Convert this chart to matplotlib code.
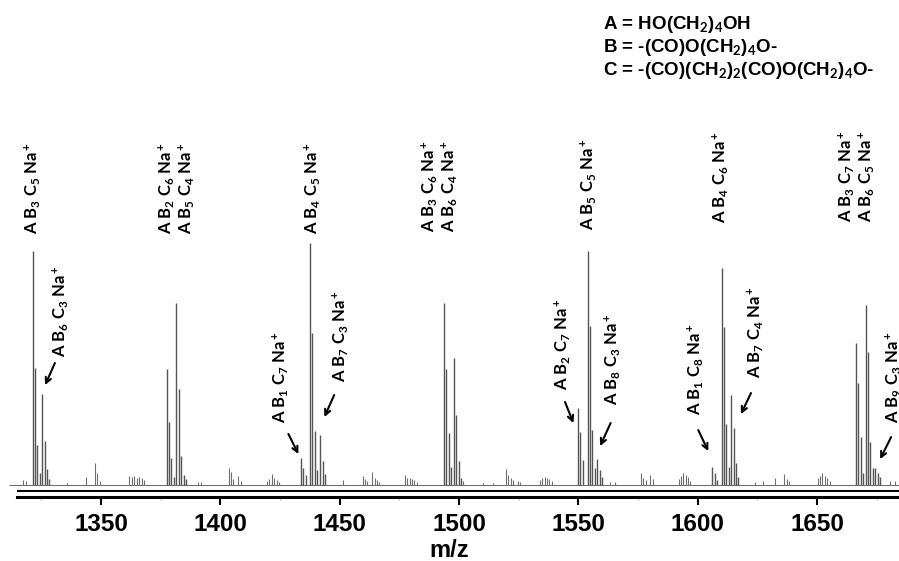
import matplotlib
matplotlib.use("Agg")
import matplotlib.pyplot as plt

plt.rcParams['mathtext.fontset'] = 'custom'
plt.rcParams['mathtext.rm'] = 'Lato:bold'
plt.rcParams['mathtext.it'] = 'Lato:bold'
plt.rcParams['mathtext.bf'] = 'Lato:bold'

# main isotope clusters (m/z, relative intensity %)
main_mz = [1321.4, 1322.4, 1323.4, 1324.4, 1325.4, 1326.4, 1327.4, 1328.4,
           1377.5, 1378.4, 1379.4, 1380.4, 1381.6, 1382.6, 1383.6, 1384.6, 1385.6,
           1433.7, 1434.7, 1435.7, 1437.7, 1438.6, 1439.6, 1440.6, 1441.8, 1442.8, 1443.8,
           1493.7, 1494.7, 1495.7, 1496.7, 1497.8, 1498.8, 1499.8, 1500.8,
           1549.8, 1550.8, 1551.8, 1553.9, 1554.9, 1555.9, 1556.9, 1557.9, 1558.9, 1559.9,
           1606.1, 1607.1, 1608.1, 1610.0, 1611.0, 1612.0, 1613.0, 1614.0, 1615.0, 1616.0, 1617.0,
           1666.2, 1667.2, 1668.2, 1669.2, 1670.3, 1671.3, 1672.3, 1673.3, 1674.3, 1675.3, 1676.3]
main_int = [96.7, 48.3, 16.5, 5.0, 37.6, 18.2, 6.6, 2.5,
            47.9, 26.0, 11.2, 3.3, 75.2, 39.7, 12.0, 4.1, 2.5,
            11.2, 7.0, 4.1, 100.0, 62.8, 22.3, 6.2, 20.7, 9.9, 4.5,
            75.2, 47.9, 21.5, 7.4, 52.5, 28.9, 9.9, 2.9,
            31.8, 21.9, 10.3, 96.7, 65.7, 22.7, 7.0, 10.7, 6.2, 3.3,
            7.4, 5.0, 2.1, 89.7, 65.3, 25.2, 7.4, 37.2, 23.6, 9.1, 3.3,
            58.7, 42.1, 19.8, 5.0, 74.4, 55.0, 17.8, 7.0, 7.0, 5.0, 3.3]

# small peaks between the clusters
minor_mz = [1317.5, 1318.5, 1335.6, 1343.6, 1347.5, 1348.5, 1349.5,
            1361.9, 1362.9, 1363.8, 1364.9, 1366.0, 1367.0, 1368.0, 1390.8, 1391.8,
            1403.5, 1404.4, 1405.5, 1407.6, 1408.5,
            1419.4, 1420.4, 1421.5, 1422.5, 1423.6, 1424.7, 1451.5,
            1459.6, 1460.6, 1461.6, 1463.7, 1464.7, 1465.6, 1466.6,
            1477.4, 1478.3, 1479.3, 1480.3, 1481.3, 1482.2, 1501.8, 1510.2, 1514.4,
            1519.7, 1520.7, 1521.6, 1522.6, 1524.7, 1525.7,
            1533.9, 1534.9, 1535.9, 1536.8, 1537.8, 1538.8, 1563.3, 1565.4,
            1576.1, 1577.1, 1578.2, 1580.2, 1581.1,
            1592.0, 1592.9, 1593.9, 1594.9, 1595.9, 1596.9,
            1624.0, 1627.5, 1632.4, 1636.3, 1637.3, 1638.3,
            1650.3, 1651.3, 1652.2, 1653.2, 1654.2, 1655.2, 1680.5, 1682.6]
minor_int = [2.1, 1.7, 0.8, 3.3, 9.1, 5.0, 1.7,
             3.7, 3.3, 3.7, 2.9, 3.3, 2.9, 2.1, 1.2, 1.2,
             7.0, 5.4, 2.5, 3.7, 1.7,
             1.7, 2.5, 4.5, 2.9, 2.1, 1.2, 2.1,
             3.7, 2.5, 1.7, 5.4, 2.9, 2.1, 1.2,
             4.1, 2.9, 2.9, 2.5, 2.1, 1.2, 1.7, 0.8, 0.8,
             6.6, 4.1, 2.9, 2.1, 1.7, 1.2,
             2.1, 2.9, 3.3, 2.9, 2.5, 1.7, 1.2, 1.2,
             5.0, 2.9, 2.1, 4.1, 2.5,
             2.5, 3.7, 5.0, 4.1, 3.3, 1.7,
             1.2, 1.7, 2.9, 4.5, 2.5, 1.7,
             2.9, 3.7, 5.0, 3.7, 2.9, 1.7, 1.7, 1.7]

# labels above the clusters
top_labels = [r"A B$_3$ C$_5$ Na$^+$",
              r"A B$_2$ C$_6$ Na$^+$" + "\n" + r"A B$_5$ C$_4$ Na$^+$",
              r"A B$_4$ C$_5$ Na$^+$",
              r"A B$_3$ C$_6$ Na$^+$" + "\n" + r"A B$_6$ C$_4$ Na$^+$",
              r"A B$_5$ C$_5$ Na$^+$",
              r"A B$_4$ C$_6$ Na$^+$",
              r"A B$_3$ C$_7$ Na$^+$" + "\n" + r"A B$_6$ C$_5$ Na$^+$"]
top_x = [1321.1, 1381.4, 1438.4, 1491.8, 1554.0, 1609.3, 1666.3]
top_y = [103.7, 103.7, 103.7, 104.5, 105.4, 108.3, 108.7]

# labels with arrows
arrow_labels = [r"A B$_6$ C$_3$ Na$^+$", r"A B$_1$ C$_7$ Na$^+$", r"A B$_7$ C$_3$ Na$^+$",
                r"A B$_2$ C$_7$ Na$^+$", r"A B$_8$ C$_3$ Na$^+$", r"A B$_1$ C$_8$ Na$^+$",
                r"A B$_7$ C$_4$ Na$^+$", r"A B$_9$ C$_3$ Na$^+$"]
arrow_text_x = [1332.8, 1425.0, 1450.1, 1543.1, 1564.1, 1598.9, 1624.0, 1681.8]
arrow_text_y = [52.9, 25.6, 42.6, 39.3, 33.1, 28.9, 44.2, 25.6]
arrow_tail = [(1330.7, 50.4), (1428.5, 21.1), (1447.7, 37.2), (1544.4, 34.3),
              (1563.5, 25.6), (1600.2, 22.7), (1622.3, 38.0), (1681.0, 19.8)]
arrow_head = [(1326.6, 41.3), (1432.7, 12.8), (1443.6, 28.1), (1547.9, 25.6),
              (1559.1, 16.1), (1604.4, 14.0), (1618.1, 29.3), (1676.4, 10.7)]

legend_lines = [r"A = HO(CH$_2$)$_4$OH",
                r"B = -(CO)O(CH$_2$)$_4$O-",
                r"C = -(CO)(CH$_2$)$_2$(CO)O(CH$_2$)$_4$O-"]

xticks = [1350, 1400, 1450, 1500, 1550, 1600, 1650]

fig = plt.figure(figsize=(8.99, 5.61), dpi=100)
ax = fig.add_axes([0, 64 / 561, 1, 497 / 561])
ax.set_xlim(1307.7, 1684.3)
ax.set_ylim(-12 / 2.42, 485 / 2.42)

ax.hlines(0, 1311.5, 1684.3, color='#707070', lw=0.8)
ax.vlines(minor_mz, 0, minor_int, color='#707070', lw=0.8)
ax.vlines(main_mz, 0, main_int, color='#555555', lw=1.0)

lab_font = dict(family='Lato', weight='bold', size=12)
for s, x, y in zip(top_labels, top_x, top_y):
    ax.text(x, y, s, rotation=90, ha='center', va='bottom', linespacing=1.0, **lab_font)
for s, x, y, t, h in zip(arrow_labels, arrow_text_x, arrow_text_y, arrow_tail, arrow_head):
    ax.text(x, y, s, rotation=90, ha='center', va='bottom', **lab_font)
    ax.annotate("", xy=h, xytext=t,
                arrowprops=dict(arrowstyle='->', color='black', lw=1.5, mutation_scale=10,
                                shrinkA=0, shrinkB=0))

# double axis line
for side in ['top', 'left', 'right']:
    ax.spines[side].set_visible(False)
ax.spines['bottom'].set_linewidth(2.2)
ax.spines['bottom'].set_bounds(1314.8, 1684.3)
ax.hlines(-6 / 2.42, 1314.8, 1684.3, color='black', lw=1.5)
ax.set_yticks([])
ax.set_xticks(xticks)
ax.set_xticks([1325, 1375, 1425, 1475, 1525, 1575, 1625, 1675], minor=True)
ax.tick_params(axis='x', which='major', length=5.5, width=1.5, pad=6)
ax.tick_params(axis='x', which='minor', length=2, width=0.8, color='#bbbbbb')
for lbl in ax.get_xticklabels():
    lbl.set_family('Liberation Sans')
    lbl.set_weight('bold')
    lbl.set_size(17.5)

fig.text(0.5, 1 - 539 / 561, "m/z", ha='center', va='top',
         family='Liberation Sans', weight='bold', size=17)

for i, s in enumerate(legend_lines):
    fig.text(603 / 899, 1 - (29 + 23 * i) / 561, s, ha='left', va='baseline',
             family='Liberation Sans', weight='bold', size=13.5)

fig.savefig("out.png", dpi=100)
